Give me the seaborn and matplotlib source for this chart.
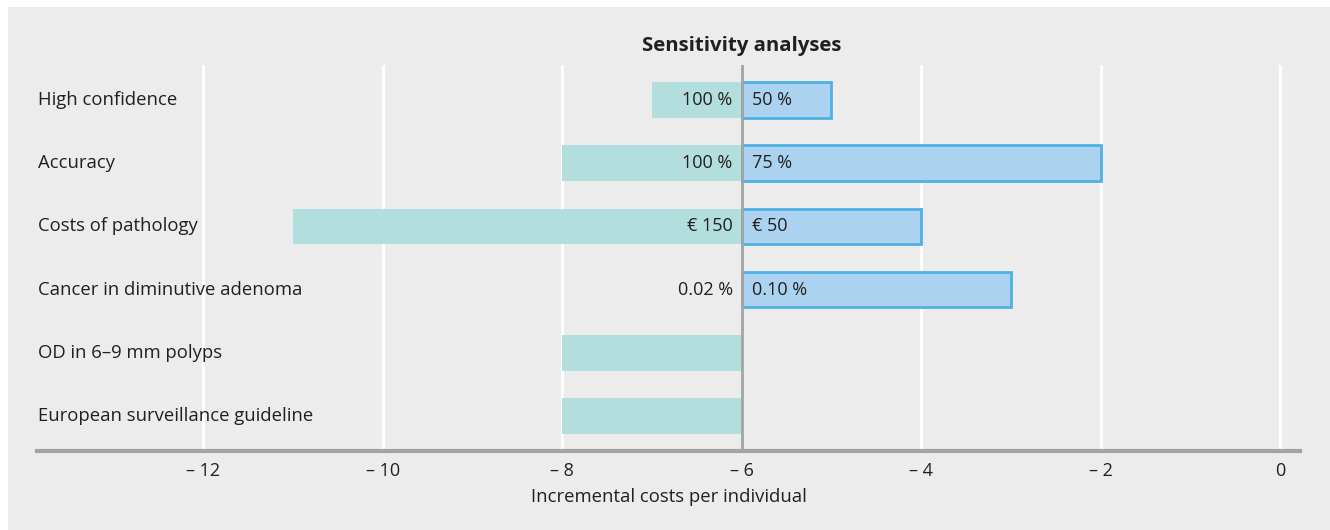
import pandas as pd
import seaborn as sns
import matplotlib.pyplot as plt
from matplotlib.patches import Rectangle

# Данные
categories = ["High confidence", "Accuracy", "Costs of pathology",
              "Cancer in diminutive adenoma", "OD in 6–9 mm polyps",
              "European surveillance guideline"]
base_value = -6
low_values = [-7, -8, -11, -6, -8, -8]
high_values = [-5, -2, -4, -3, None, None]
low_labels = ["100 %", "100 %", "€ 150", "0.02 %", "", ""]
high_labels = ["50 %", "75 %", "€ 50", "0.10 %", "", ""]
x_ticks = [-12, -10, -8, -6, -4, -2, 0]

TEAL = "#b2dfdd"
BLUE_FILL = "#abd3f0"
BLUE_EDGE = "#4fb0e5"
BG = "#ebeceb"
TEXT = "#231f20"

sns.set_theme(style="white")
plt.rcParams['font.family'] = ['Open Sans', 'DejaVu Sans']

low_df = pd.DataFrame({"category": categories,
                       "delta": [v - base_value for v in low_values]})
high_df = pd.DataFrame({"category": categories, "value": high_values}).dropna()
high_df["delta"] = high_df["value"] - base_value

fig = plt.figure(figsize=(13.3, 5.3), dpi=100)
fig.patch.set_facecolor("white")
fig.patches.append(Rectangle((8 / 1330, 0), 1, 1 - 7 / 530, transform=fig.transFigure,
                             facecolor=BG, edgecolor="none", zorder=-10))

ax = fig.add_axes([37 / 1330, 79 / 530, 1263 / 1330, 386 / 530])
ax.set_facecolor(BG)

sns.barplot(data=low_df, y="category", x="delta", order=categories, orient="h",
            color=TEAL, saturation=1, width=0.56, left=base_value,
            linewidth=0, ax=ax, zorder=2)
sns.barplot(data=high_df, y="category", x="delta", order=categories, orient="h",
            color=BLUE_FILL, saturation=1, width=0.56, left=base_value,
            edgecolor=BLUE_EDGE, linewidth=2, ax=ax, zorder=2)

ax.set_xlim(-13.85, 0.22)
ax.set_ylim(5.55, -0.55)

# сетка
for t in x_ticks:
    if t != base_value:
        ax.axvline(t, color="white", lw=2.2, zorder=1)
ax.axvline(base_value, color="#a3a4a6", lw=2, zorder=3)

for i, cat in enumerate(categories):
    ax.text(-13.85 + 0.01, i, cat, ha="left", va="center", fontsize=13.3, color=TEXT)
    if low_labels[i]:
        ax.annotate(low_labels[i], (base_value, i), xytext=(-9, 0),
                    textcoords="offset pixels", ha="right", va="center",
                    fontsize=13, color=TEXT, zorder=4)
    if high_labels[i]:
        ax.annotate(high_labels[i], (base_value, i), xytext=(10, 0),
                    textcoords="offset pixels", ha="left", va="center",
                    fontsize=13, color=TEXT, zorder=4)

ax.set_xticks(x_ticks)
ax.set_xticklabels([("– " + str(abs(t))) if t < 0 else str(t) for t in x_ticks],
                   fontsize=13, color=TEXT)
ax.tick_params(axis="x", length=0, pad=8)
ax.set_yticks([])
ax.set_ylabel("")
ax.set_xlabel("Incremental costs per individual", fontsize=13.3, color=TEXT, labelpad=6)

for side in ["top", "right", "left"]:
    ax.spines[side].set_visible(False)
ax.spines["bottom"].set_color("#a3a4a6")
ax.spines["bottom"].set_linewidth(3)
ax.spines["bottom"].set_zorder(5)

ax.text(base_value, -0.85, "Sensitivity analyses", ha="center", va="center",
        fontsize=14.7, fontweight="bold", color=TEXT)

fig.savefig("out.png", dpi=100, facecolor=fig.get_facecolor())
